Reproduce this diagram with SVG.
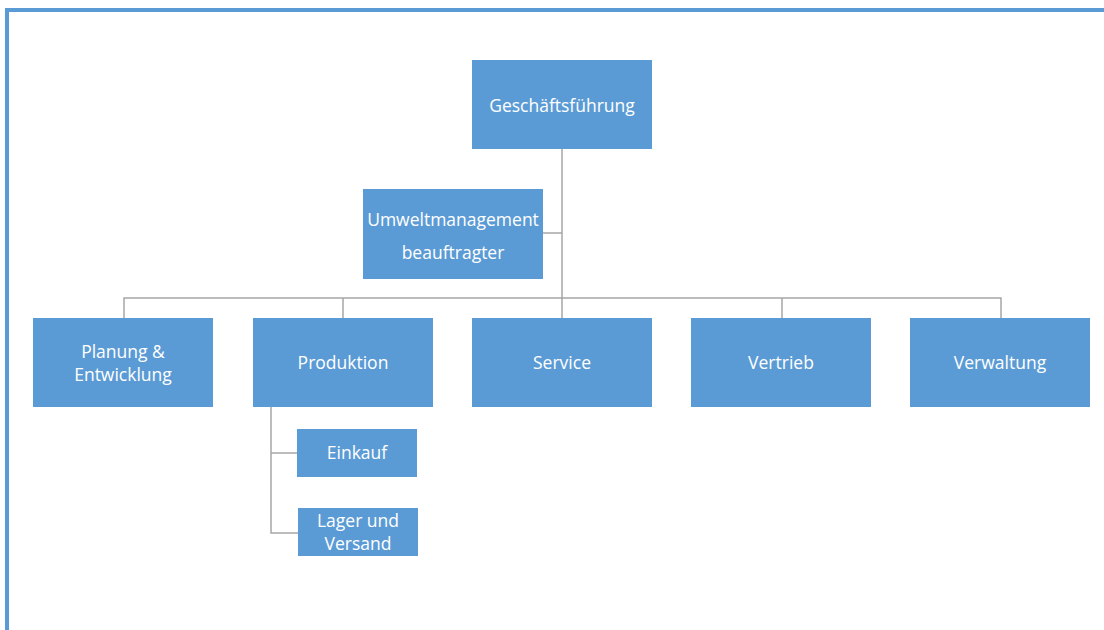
<svg xmlns="http://www.w3.org/2000/svg" width="1104" height="630" viewBox="0 0 1104 630">
<style>
.box{fill:#5B9BD5;}
.lbl{fill:#ffffff;font-family:"Open Sans","Noto Sans",sans-serif;font-size:17.5px;text-anchor:middle;dominant-baseline:central;}
.con{stroke:#A6A6A6;stroke-width:1.5;fill:none;}
.frame{fill:#5B9BD5;}
</style>
<rect width="1104" height="630" fill="#ffffff"/>
<rect class="frame" x="5" y="8" width="1099" height="4"/>
<rect class="frame" x="5" y="8" width="4" height="622"/>
<g id="connectors">
<path class="con" d="M562,149 V298"/>
<path class="con" d="M543,233 H562"/>
<path class="con" d="M124,318 V298 H1001 V318"/>
<path class="con" d="M343,298 V318"/>
<path class="con" d="M782,298 V318"/>
<path class="con" d="M562,298 V318"/>
<path class="con" d="M271,407 V533 H298"/>
<path class="con" d="M271,453 H297"/>
</g>
<g id="geschaeftsfuehrung"><rect class="box" x="472" y="60" width="180" height="89"/><text class="lbl" x="562" y="105">Geschäftsführung</text></g>
<g id="umweltmanagement"><rect class="box" x="363" y="189" width="180" height="90"/><text class="lbl" x="453" y="219">Umweltmanagement</text><text class="lbl" x="453" y="252">beauftragter</text></g>
<g id="planung"><rect class="box" x="33" y="318" width="180" height="89"/><text class="lbl" x="123" y="351">Planung &amp;</text><text class="lbl" x="123" y="374">Entwicklung</text></g>
<g id="produktion"><rect class="box" x="253" y="318" width="180" height="89"/><text class="lbl" x="343" y="362">Produktion</text></g>
<g id="service"><rect class="box" x="472" y="318" width="180" height="89"/><text class="lbl" x="562" y="362">Service</text></g>
<g id="vertrieb"><rect class="box" x="691" y="318" width="180" height="89"/><text class="lbl" x="781" y="362">Vertrieb</text></g>
<g id="verwaltung"><rect class="box" x="910" y="318" width="180" height="89"/><text class="lbl" x="1000" y="362">Verwaltung</text></g>
<g id="einkauf"><rect class="box" x="297" y="429" width="120" height="48"/><text class="lbl" x="357" y="452">Einkauf</text></g>
<g id="lager"><rect class="box" x="298" y="508" width="120" height="48"/><text class="lbl" x="358" y="520">Lager und</text><text class="lbl" x="358" y="543">Versand</text></g>
</svg>
